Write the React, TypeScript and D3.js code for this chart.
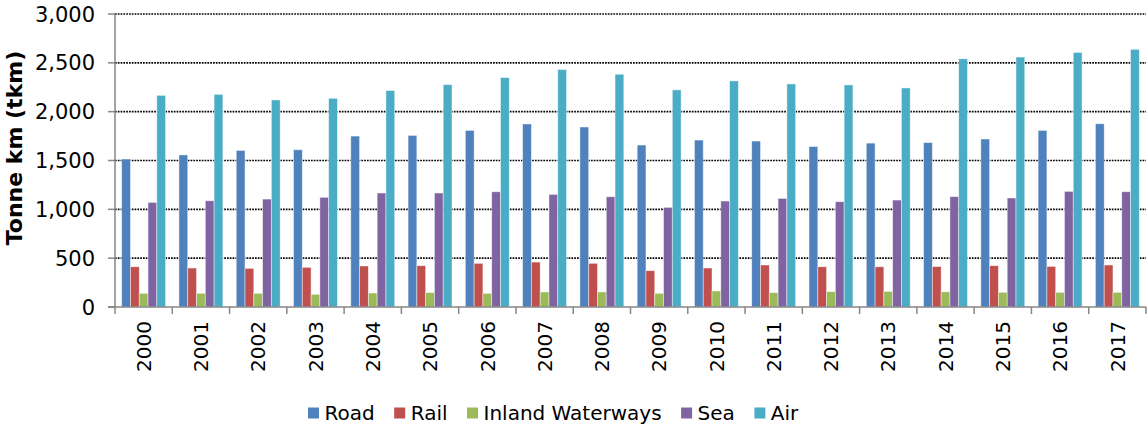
import React from "react";
import * as d3 from "d3";

const years = ["2000","2001","2002","2003","2004","2005","2006","2007","2008","2009","2010","2011","2012","2013","2014","2015","2016","2017"];
const seriesNames = ["Road", "Rail", "Inland Waterways", "Sea", "Air"];
const seriesColors = ["#4F81BD", "#C0504D", "#9BBB59", "#8064A2", "#4BACC6"];
const road = [1515, 1557, 1603, 1610, 1750, 1757, 1808, 1874, 1843, 1658, 1709, 1699, 1643, 1678, 1683, 1720, 1808, 1876];
const rail = [412, 399, 396, 406, 420, 423, 447, 460, 447, 372, 399, 430, 412, 412, 414, 423, 416, 430];
const inland = [140, 140, 140, 130, 143, 147, 140, 154, 154, 140, 164, 147, 157, 160, 155, 150, 150, 150];
const sea = [1071, 1088, 1105, 1123, 1167, 1167, 1180, 1153, 1129, 1020, 1085, 1112, 1078, 1095, 1130, 1116, 1184, 1180];
const air = [2167, 2177, 2120, 2137, 2216, 2277, 2349, 2431, 2383, 2223, 2315, 2284, 2274, 2243, 2541, 2559, 2607, 2638];
const yTicks = [0, 500, 1000, 1500, 2000, 2500, 3000];
const yTitle = "Tonne km (tkm)";

const W = 1148, H = 425;
const FONT = "'DejaVu Sans', Verdana, sans-serif";

function textWidth(t: string, font: string) {
  const c = document.createElement("canvas").getContext("2d");
  if (!c) return t.length * 11;
  c.font = font;
  return c.measureText(t).width;
}

export default function App() {
  const series = [road, rail, inland, sea, air];
  const x = d3.scaleBand<string>().domain(years).range([115, 1146]).paddingInner(0).paddingOuter(0);
  const x1 = d3.scaleBand<number>().domain(d3.range(seriesNames.length)).range([0, x.bandwidth()]).paddingOuter(0.76).paddingInner(0);
  const y = d3.scaleLinear().domain([0, 3000]).range([307, 14]);
  const fmt = d3.format(",");
  const axisColor = "#868686";

  const legendFont = `20px ${FONT}`;
  let lx = 308;
  const legendItems = seriesNames.map((name, i) => {
    const item = { name, color: seriesColors[i], x: lx };
    lx += 11 + 5.5 + textWidth(name, legendFont) + 19.5;
    return item;
  });

  return (
    <div style={{ position: "absolute", left: 0, top: 0 }}>
      <svg width={W} height={H} style={{ display: "block", background: "#fff" }}>
        {yTicks.filter(t => t > 0).map(t => (
          <line key={"g" + t} x1={115} x2={1146} y1={y(t)} y2={y(t)} stroke="#000" strokeWidth={1.7} strokeDasharray="1.7,1.1" />
        ))}
        {years.map((yr, i) => (
          <g key={yr} transform={`translate(${x(yr)},0)`}>
            {series.map((s, j) => (
              <rect key={j} x={x1(j)} y={y(s[i])} width={x1.bandwidth()} height={y(0) - y(s[i])}
                fill={seriesColors[j]} stroke="rgba(255,255,255,0.55)" strokeWidth={0.8} />
            ))}
          </g>
        ))}
        <line x1={115} x2={115} y1={y(3000)} y2={y(0)} stroke={axisColor} strokeWidth={1.5} />
        {yTicks.map(t => (
          <g key={"t" + t}>
            <line x1={108} x2={115} y1={y(t)} y2={y(t)} stroke={axisColor} strokeWidth={1.5} />
            <text x={95} y={y(t)} dy="0.36em" textAnchor="end" fontFamily={FONT} fontSize={21} fill="#000">{fmt(t)}</text>
          </g>
        ))}
        <line x1={108} x2={1146} y1={y(0)} y2={y(0)} stroke={axisColor} strokeWidth={1.5} />
        {[...years.map(yr => x(yr) as number), 1146].map((px, i) => (
          <line key={"xt" + i} x1={px} x2={px} y1={y(0)} y2={y(0) + 7} stroke={axisColor} strokeWidth={1.5} />
        ))}
        {years.map(yr => {
          const cx = (x(yr) as number) + x.bandwidth() / 2;
          return (
            <text key={"xl" + yr} transform={`translate(${cx},321) rotate(-90)`} dy="0.36em" textAnchor="end"
              fontFamily={FONT} fontSize={20} fill="#000">{yr}</text>
          );
        })}
        <text transform={`translate(21.5,148) rotate(-90)`} textAnchor="middle" fontFamily={FONT} fontSize={22} fontWeight="bold" fill="#000">{yTitle}</text>
        {legendItems.map(it => (
          <g key={it.name}>
            <rect x={it.x} y={407.5} width={11} height={11} fill={it.color} />
            <text x={it.x + 16.5} y={420} fontFamily={FONT} fontSize={20} fill="#000">{it.name}</text>
          </g>
        ))}
      </svg>
    </div>
  );
}
